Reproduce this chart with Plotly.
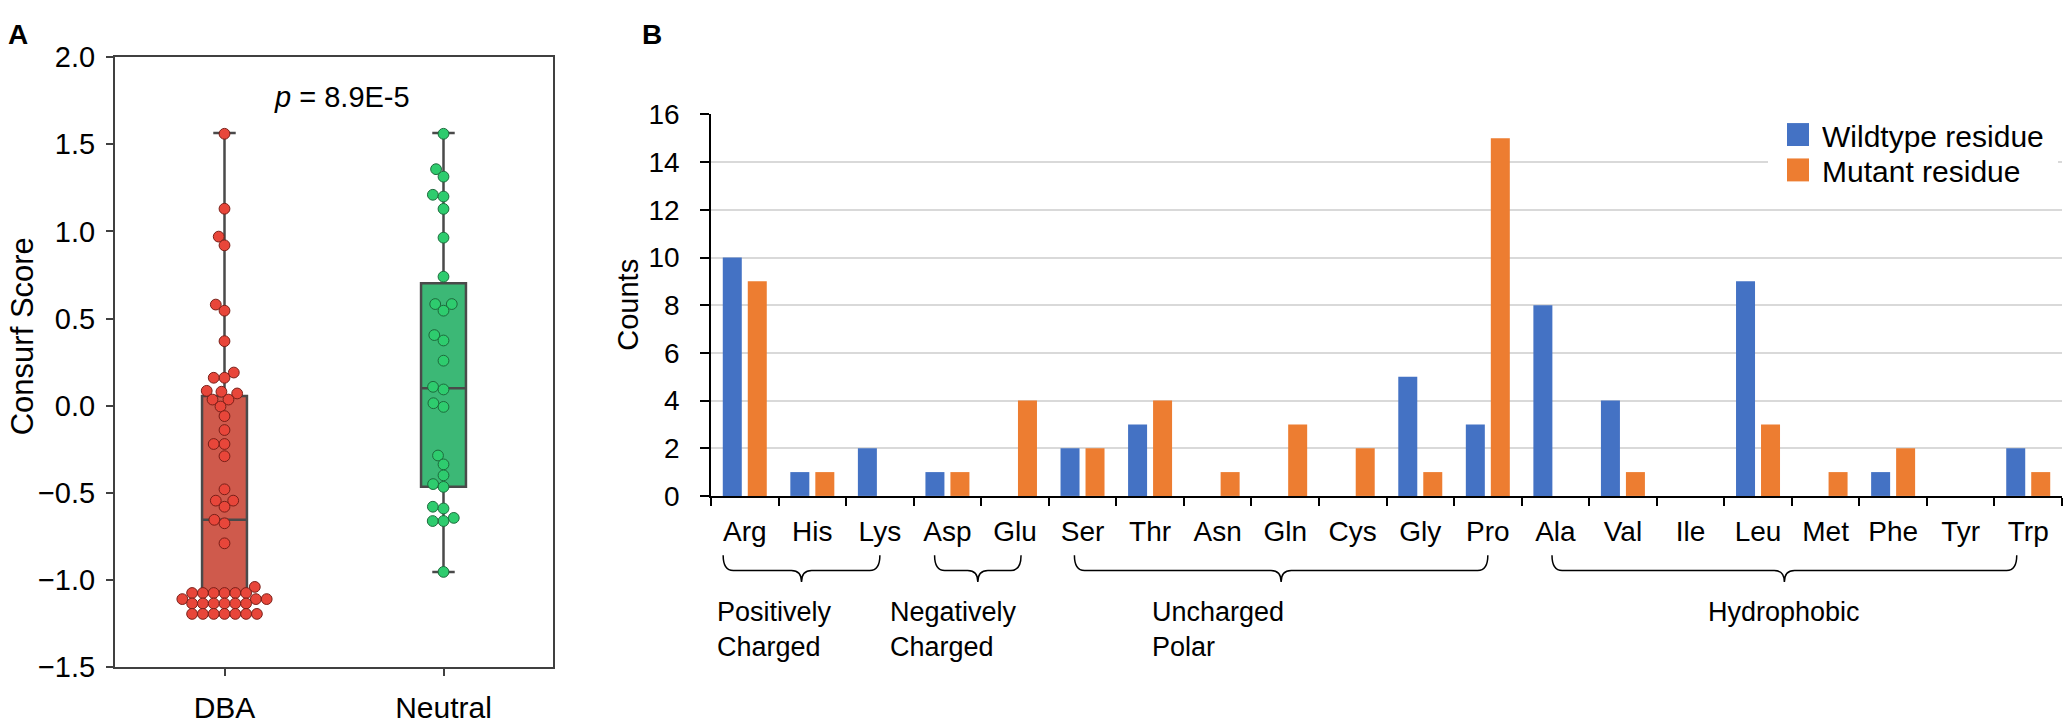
import numpy as np
import plotly.graph_objects as go

W, H = 2071, 728
FONT = "Liberation Sans, Arial, sans-serif"

# ---------------- Panel A data ----------------
groups = ["DBA", "Neutral"]
dba_scores = [1.56, 1.13, 0.97, 0.92, 0.58, 0.545, 0.37, 0.19, 0.16, 0.16,
              0.085, 0.08, 0.07, 0.035, 0.035, -0.005, -0.06, -0.14, -0.22, -0.22,
              -0.29, -0.48, -0.545, -0.545, -0.58, -0.655, -0.675, -0.79, -1.04,
              -1.075, -1.075, -1.075, -1.075, -1.075, -1.075,
              -1.11, -1.11, -1.11,
              -1.135, -1.135, -1.135, -1.135, -1.135, -1.135,
              -1.195, -1.195, -1.195, -1.195, -1.195, -1.195, -1.195]
neutral_scores = [1.56, 1.357, 1.314, 1.21, 1.20, 1.129, 0.964, 0.74, 0.583, 0.583,
                  0.545, 0.405, 0.374, 0.258, 0.108, 0.093, 0.014, -0.007, -0.286,
                  -0.337, -0.40, -0.45, -0.466, -0.58, -0.59, -0.644, -0.662, -0.662,
                  -0.954]
# box summaries: lowerfence, q1, median, q3, upperfence
dba_box = [-1.20, -1.07, -0.655, 0.055, 1.565]
neutral_box = [-0.954, -0.466, 0.10, 0.702, 1.565]
p_label = "<i>p</i> = 8.9E-5"

# ---------------- Panel B data ----------------
residues = ["Arg", "His", "Lys", "Asp", "Glu", "Ser", "Thr", "Asn", "Gln", "Cys",
            "Gly", "Pro", "Ala", "Val", "Ile", "Leu", "Met", "Phe", "Tyr", "Trp"]
wildtype_counts = [10, 1, 2, 1, 0, 2, 3, 0, 0, 0, 5, 3, 8, 4, 0, 9, 0, 1, 0, 2]
mutant_counts = [9, 1, 0, 1, 4, 2, 4, 1, 3, 2, 1, 15, 0, 1, 0, 3, 1, 2, 0, 1]
series_names = ["Wildtype residue", "Mutant residue"]
series_colors = ["#4472C4", "#ED7D31"]
group_labels = ["Positively<br>Charged", "Negatively<br>Charged", "Uncharged<br>Polar", "Hydrophobic"]
group_first = ["Arg", "Asp", "Ser", "Ala"]
group_last = ["Lys", "Glu", "Pro", "Trp"]

# ---------------- layout geometry (pixels) ----------------
A_left, A_right, A_top, A_bot = 115, 553, 43, 681
B_left, B_right, B_top, B_bot = 711, 2062, 103, 502

def px(x):
    return x / W

def py(y):
    return 1 - y / H

yA_range = [-1.5, 2.0]
xA_range = [-0.5, 1.5]
ppu_y = (A_bot - A_top) / (yA_range[1] - yA_range[0])
ppu_x = (A_right - A_left) / (xA_range[1] - xA_range[0])


def swarm(vals, diam):
    vals = np.asarray(vals, float)
    order = np.argsort(vals, kind="stable")
    placed = []
    offs = np.zeros(len(vals))
    for i in order:
        y = vals[i] * ppu_y
        cands = [0.0]
        for xj, yj in placed:
            dy = y - yj
            if abs(dy) < diam:
                dx = np.sqrt(diam ** 2 - dy ** 2)
                cands += [xj - dx, xj + dx]
        cands.sort(key=lambda c: (abs(c), c))
        for c in cands:
            if all((c - xj) ** 2 + (y - yj) ** 2 >= diam ** 2 - 1e-6 for xj, yj in placed):
                offs[i] = c
                placed.append((c, y))
                break
    return offs / ppu_x


fig = go.Figure()

styles = [
    dict(box="#CF5A4C", pt="#E8463A", edge="#7A1F18"),
    dict(box="#3CB876", pt="#2ECC6E", edge="#1D6B3C"),
]
for gi, (scores, stats) in enumerate([(dba_scores, dba_box), (neutral_scores, neutral_box)]):
    st = styles[gi]
    fig.add_trace(go.Box(
        x=[gi], lowerfence=[stats[0]], q1=[stats[1]], median=[stats[2]],
        q3=[stats[3]], upperfence=[stats[4]],
        width=0.205, whiskerwidth=0.5, fillcolor=st["box"],
        line=dict(color="#4A4A4A", width=2.5), boxpoints=False,
        showlegend=False, hoverinfo="skip", xaxis="x", yaxis="y"))
    offs = swarm(scores, 10.8)
    fig.add_trace(go.Scatter(
        x=gi + offs, y=scores, mode="markers",
        marker=dict(size=10.8, color=st["pt"], line=dict(color=st["edge"], width=1)),
        showlegend=False, hoverinfo="skip", xaxis="x", yaxis="y"))

for name, vals, col in zip(series_names, [wildtype_counts, mutant_counts], series_colors):
    fig.add_trace(go.Bar(x=residues, y=vals, name=name,
                         marker=dict(color=col, line=dict(width=0)),
                         showlegend=False, xaxis="x2", yaxis="y2"))

axA = dict(showline=True, linecolor="#404040", linewidth=2, mirror=True,
           ticks="outside", ticklen=7, tickwidth=2, tickcolor="#404040",
           showgrid=False, zeroline=False)

fig.update_layout(
    width=W, height=H, margin=dict(l=0, r=0, t=0, b=0),
    paper_bgcolor="white", plot_bgcolor="white",
    font=dict(family=FONT, color="black"),
    barmode="group", bargap=0.26, bargroupgap=0.24,
    xaxis=dict(domain=[px(A_left), px(A_right)], range=xA_range, tickvals=[0, 1],
               ticktext=groups, tickfont=dict(size=30, color="black"),
               ticklabelstandoff=6, anchor="y", **axA),
    yaxis=dict(domain=[py(A_bot), py(A_top)], range=yA_range, tick0=-1.5, dtick=0.5,
               tickformat=".1f", tickfont=dict(size=29, color="black"),
               ticklabelstandoff=5, anchor="x", **axA),
    xaxis2=dict(domain=[px(B_left), px(B_right)], type="category",
                categoryorder="array", categoryarray=residues, tickson="boundaries",
                ticks="outside", ticklen=8, tickwidth=1.5, tickcolor="black",
                showline=True, linecolor="black", linewidth=1.5, showgrid=False,
                tickfont=dict(size=28, color="black"), ticklabelstandoff=10,
                anchor="y2"),
    yaxis2=dict(domain=[py(B_bot), py(B_top)], range=[0, 16], dtick=2,
                showgrid=True, gridcolor="#D9D9D9", gridwidth=1.5, zeroline=False,
                showline=True, linecolor="black", linewidth=1.5, ticks="outside",
                ticklen=9, tickwidth=1.5, tickcolor="black",
                tickfont=dict(size=28, color="black"), ticklabelstandoff=15,
                anchor="x2"),
    showlegend=False,
)

annotations = [
    dict(text="<b>A</b>", x=px(18), y=py(19), font=dict(size=28)),
    dict(text="<b>B</b>", x=px(652), y=py(19), font=dict(size=28)),
    dict(text=p_label, x=px(342), y=py(85), font=dict(size=29)),
    dict(text="Consurf Score", x=px(22), y=py(335), textangle=-90, font=dict(size=31)),
    dict(text="Counts", x=px(628), y=py(302), textangle=-90, font=dict(size=29)),
]
for a in annotations:
    a.update(xref="paper", yref="paper", showarrow=False, xanchor="center", yanchor="middle")
    fig.add_annotation(**a)

# legend box (drawn over the gridlines, top-right of panel B)
fig.add_shape(type="rect", xref="paper", yref="paper", x0=px(1768), x1=px(2058),
              y0=py(182), y1=py(106), fillcolor="white", line=dict(width=0), layer="above")
for k, (name, col) in enumerate(zip(series_names, series_colors)):
    yc = 124 + 37 * k
    fig.add_shape(type="rect", xref="paper", yref="paper", x0=px(1787), x1=px(1809),
                  y0=py(yc + 12), y1=py(yc - 12), fillcolor=col, line=dict(width=0),
                  layer="above")
    fig.add_annotation(text=name, x=px(1820), y=py(yc + 1), xref="paper", yref="paper",
                       showarrow=False, xanchor="left", yanchor="middle", height=34,
                       font=dict(size=30, color="black"))

# group brackets below the residue axis
idx = {r: i for i, r in enumerate(residues)}
end_adjust_l = [-0.32, -0.19, -0.12, -0.05]
end_adjust_r = [0.0, 0.09, 0.0, -0.17]
label_shift = [-0.4, -0.36, -0.93, 0.0]
y_tip, y_mid, y_bot = py(564), py(580), py(592)
r = 0.15
for k, lab in enumerate(group_labels):
    xl = idx[group_first[k]] + end_adjust_l[k]
    xr = idx[group_last[k]] + end_adjust_r[k]
    xc = (xl + xr) / 2
    path = (f"M {xl},{y_tip} Q {xl},{y_mid} {xl + r},{y_mid} L {xc - r},{y_mid} "
            f"Q {xc},{y_mid} {xc},{y_bot} Q {xc},{y_mid} {xc + r},{y_mid} "
            f"L {xr - r},{y_mid} Q {xr},{y_mid} {xr},{y_tip}")
    fig.add_shape(type="path", path=path, xref="x2", yref="paper",
                  line=dict(color="black", width=1.5))
    fig.add_annotation(text=lab, x=xc + label_shift[k], y=py(606), xref="x2", yref="paper",
                       showarrow=False, xanchor="center", yanchor="top", align="left",
                       font=dict(size=27, color="black"))

fig.write_html("out.html", config={"displayModeBar": False},
               post_script="document.body.style.margin='0';")
